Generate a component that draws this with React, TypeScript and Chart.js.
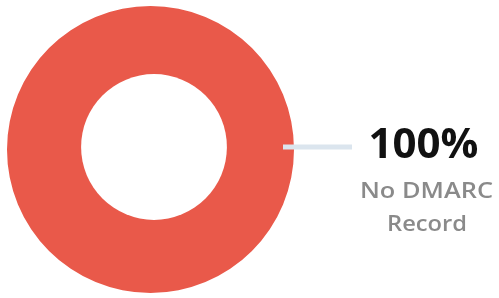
import React, { useEffect, useRef } from "react";
import { Chart, registerables } from "chart.js";

Chart.register(...registerables);

const categories = ["No DMARC Record"];
const values = [100];
const percentLabel = "100%";
const labelLines = ["No DMARC", "Record"];
const colors = ["#e9594a"];

function drawFitted(ctx: any, text: string, cx: number, y: number, font: string, color: string, targetW: number) {
  ctx.save();
  ctx.font = font;
  ctx.fillStyle = color;
  ctx.textAlign = "center";
  ctx.textBaseline = "alphabetic";
  const w = ctx.measureText(text).width;
  const sx = targetW / w;
  ctx.translate(cx, y);
  ctx.scale(sx, 1);
  ctx.fillText(text, 0, 0);
  ctx.restore();
}

const calloutPlugin = {
  id: "callout",
  afterDatasetsDraw(chart: any) {
    const ctx = chart.ctx;
    const arc = chart.getDatasetMeta(0).data[0];
    if (!arc) return;
    const cx = arc.x;
    const cy = arc.y;
    const r = arc.outerRadius;
    ctx.save();
    // hole (slightly off-centre as in the reference)
    ctx.fillStyle = "#ffffff";
    ctx.beginPath();
    ctx.arc(cx + 3.5, cy - 2.5, r * 0.508, 0, Math.PI * 2);
    ctx.fill();
    // leader line
    ctx.strokeStyle = "#dbe5ee";
    ctx.lineWidth = 5;
    ctx.beginPath();
    ctx.moveTo(cx + r - 11, cy - 2.5);
    ctx.lineTo(cx + r + 58, cy - 2.5);
    ctx.stroke();
    ctx.restore();
    drawFitted(ctx, percentLabel, 423.5, 158, "bold 41px 'Open Sans'", "#111111", 110);
    drawFitted(ctx, labelLines[0], 426.5, 198, "600 21px 'Open Sans'", "#8a8a8a", 133);
    drawFitted(ctx, labelLines[1], 427, 231, "600 21px 'Open Sans'", "#8a8a8a", 80);
  },
};

export default function App() {
  const ref = useRef<HTMLCanvasElement | null>(null);
  useEffect(() => {
    if (!ref.current) return;
    const chart = new Chart(ref.current, {
      type: "doughnut",
      data: {
        labels: categories,
        datasets: [
          {
            data: values,
            backgroundColor: colors,
            borderWidth: 0,
          },
        ],
      },
      options: {
        animation: false,
        responsive: false,
        cutout: "46%",
        layout: { padding: { left: 7, top: 6, right: 205, bottom: 5 } },
        plugins: { legend: { display: false }, tooltip: { enabled: false } },
      },
      plugins: [calloutPlugin],
    });
    return () => chart.destroy();
  }, []);
  return (
    <div style={{ position: "absolute", left: 0, top: 0, width: 499, height: 298, background: "#fff" }}>
      <canvas ref={ref} width={499} height={298} style={{ width: 499, height: 298, display: "block" }} />
    </div>
  );
}
